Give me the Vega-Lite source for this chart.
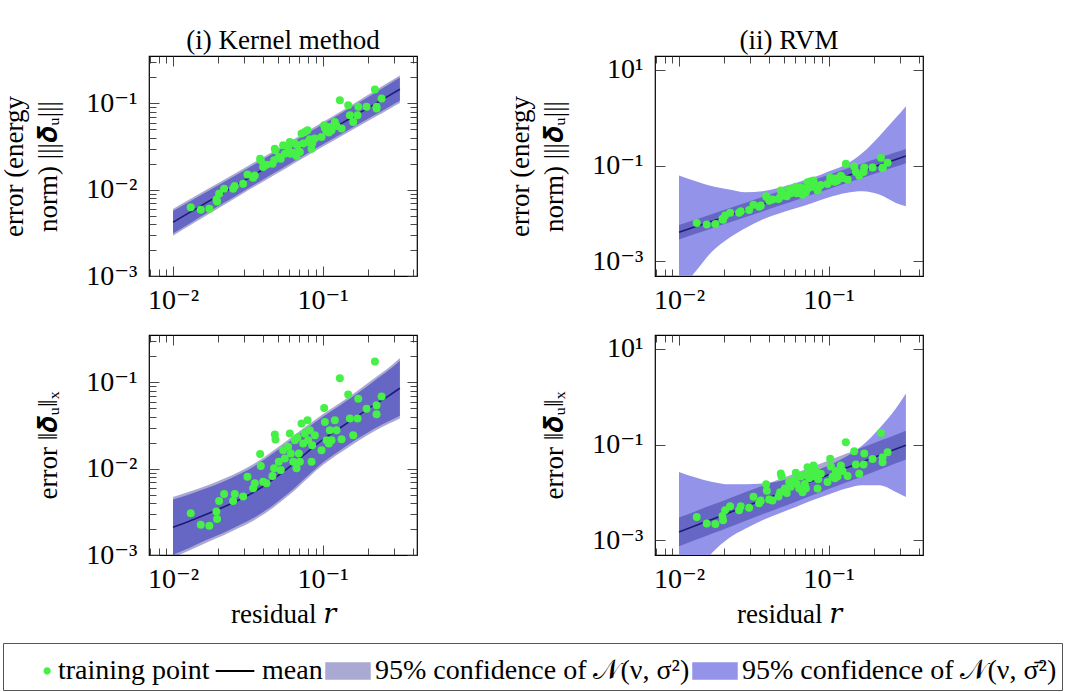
{
 "$schema": "https://vega.github.io/schema/vega-lite/v6.json",
 "background": "white",
 "padding": {"left": 0, "top": 25, "right": 2, "bottom": 0},
 "datasets": {
  "pts": [
   {"r":0.01314,"eE":0.00628,"eX":0.00305},{"r":0.01532,"eE":0.00585,"eX":0.002244},{"r":0.01751,"eE":0.00601,"eX":0.002183},
   {"r":0.01971,"eE":0.00731,"eX":0.002606},{"r":0.01951,"eE":0.00771,"eX":0.003193},{"r":0.02033,"eE":0.00898,"eX":0.00424},
   {"r":0.02196,"eE":0.01026,"eX":0.005108},{"r":0.02522,"eE":0.01026,"eX":0.00424},{"r":0.02588,"eE":0.01102,"eX":0.005108},
   {"r":0.02942,"eE":0.01173,"eX":0.004758},{"r":0.03146,"eE":0.01506,"eX":0.008091},{"r":0.03433,"eE":0.01377,"eX":0.005939},
   {"r":0.03522,"eE":0.01466,"eX":0.006781},{"r":0.03864,"eE":0.02191,"eX":0.01074},{"r":0.03824,"eE":0.02291,"eX":0.01477},
   {"r":0.04005,"eE":0.01833,"eX":0.007086},{"r":0.04216,"eE":0.01951,"eX":0.006781},{"r":0.04624,"eE":0.02004,"eX":0.008236},
   {"r":0.04744,"eE":0.02191,"eX":0.0101},{"r":0.04793,"eE":0.02994,"eX":0.0249},{"r":0.04843,"eE":0.02864,"eX":0.02182},
   {"r":0.05097,"eE":0.02394,"eX":0.01206},{"r":0.05257,"eE":0.02291,"eX":0.00966},{"r":0.0545,"eE":0.03274,"eX":0.01643},
   {"r":0.05592,"eE":0.02619,"eX":0.01317},{"r":0.05888,"eE":0.03131,"eX":0.01795},{"r":0.06042,"eE":0.0358,"eX":0.02559},
   {"r":0.06136,"eE":0.02619,"eX":0.01504},{"r":0.0636,"eE":0.0269,"eX":0.01206},{"r":0.06526,"eE":0.03424,"eX":0.02143},
   {"r":0.06696,"eE":0.0246,"eX":0.0101},{"r":0.068,"eE":0.03274,"eX":0.023},{"r":0.06941,"eE":0.02788,"eX":0.01504},
   {"r":0.07049,"eE":0.02739,"eX":0.01206},{"r":0.07231,"eE":0.04474,"eX":0.03337},{"r":0.07418,"eE":0.03424,"eX":0.01961},
   {"r":0.07612,"eE":0.04677,"eX":0.02559},{"r":0.07933,"eE":0.04891,"eX":0.03645},{"r":0.08014,"eE":0.0358,"eX":0.02143},
   {"r":0.08222,"eE":0.03845,"eX":0.02795},{"r":0.08437,"eE":0.02994,"eX":0.01206},{"r":0.08523,"eE":0.03424,"eX":0.01876},
   {"r":0.08881,"eE":0.03914,"eX":0.02447},{"r":0.09842,"eE":0.04093,"eX":0.01643},{"r":0.1025,"eE":0.05592,"eX":0.05057},
   {"r":0.1036,"eE":0.05208,"eX":0.03486},{"r":0.1063,"eE":0.04762,"eX":0.02143},{"r":0.1102,"eE":0.04595,"eX":0.01961},
   {"r":0.1119,"eE":0.05349,"eX":0.02795},{"r":0.1148,"eE":0.04891,"eX":0.02143},{"r":0.1208,"eE":0.06116,"eX":0.03645},
   {"r":0.124,"eE":0.05493,"eX":0.02795},{"r":0.1305,"eE":0.1092,"eX":0.1122},{"r":0.134,"eE":0.05117,"eX":0.02201},
   {"r":0.1484,"eE":0.09554,"eX":0.07271},{"r":0.1523,"eE":0.07311,"eX":0.03811},{"r":0.1603,"eE":0.06116,"eX":0.02447},
   {"r":0.1732,"eE":0.09137,"eX":0.06478},{"r":0.1714,"eE":0.07311,"eX":0.03811},{"r":0.1969,"eE":0.09137,"eX":0.04969},
   {"r":0.2239,"eE":0.1454,"eX":0.1747},{"r":0.2297,"eE":0.09137,"eX":0.05427},{"r":0.2297,"eE":0.08738,"eX":0.04274},
   {"r":0.2481,"eE":0.1142,"eX":0.06894}
  ],
  "bands": [
   {"panel":"KE","r":0.01,"m":0.004198,"aLo":0.002937,"aHi":0.005998,"bLo":0.003112,"bHi":0.005662},
   {"panel":"KE","r":0.01294,"m":0.005458,"aLo":0.003846,"aHi":0.007745,"bLo":0.004074,"bHi":0.007311},
   {"panel":"KE","r":0.01671,"m":0.007079,"aLo":0.005023,"aHi":0.009977,"bLo":0.005321,"bHi":0.009419},
   {"panel":"KE","r":0.02163,"m":0.009204,"aLo":0.006577,"aHi":0.01288,"bLo":0.006966,"bHi":0.01216},
   {"panel":"KE","r":0.02793,"m":0.01191,"aLo":0.008551,"aHi":0.0166,"bLo":0.009057,"bHi":0.01567},
   {"panel":"KE","r":0.03614,"m":0.01549,"aLo":0.01117,"aHi":0.02148,"bLo":0.01183,"bHi":0.02028},
   {"panel":"KE","r":0.04667,"m":0.02009,"aLo":0.01452,"aHi":0.0278,"bLo":0.01538,"bHi":0.02624},
   {"panel":"KE","r":0.06039,"m":0.02612,"aLo":0.01888,"aHi":0.03614,"bLo":0.02,"bHi":0.03412},
   {"panel":"KE","r":0.07798,"m":0.03388,"aLo":0.02443,"aHi":0.04699,"bLo":0.02588,"bHi":0.04436},
   {"panel":"KE","r":0.1009,"m":0.04406,"aLo":0.0317,"aHi":0.06124,"bLo":0.03357,"bHi":0.05781},
   {"panel":"KE","r":0.1306,"m":0.05715,"aLo":0.04093,"aHi":0.0798,"bLo":0.04335,"bHi":0.07534},
   {"panel":"KE","r":0.1687,"m":0.07413,"aLo":0.05272,"aHi":0.1042,"bLo":0.05585,"bHi":0.0984},
   {"panel":"KE","r":0.2183,"m":0.09638,"aLo":0.06792,"aHi":0.1368,"bLo":0.07194,"bHi":0.1291},
   {"panel":"KE","r":0.2818,"m":0.125,"aLo":0.0871,"aHi":0.1795,"bLo":0.09226,"bHi":0.1694},
   {"panel":"KE","r":0.3289,"m":0.1462,"aLo":0.1012,"aHi":0.2113,"bLo":0.1072,"bHi":0.1995},
   {"panel":"KX","r":0.01,"m":0.002099,"aLo":0.0009376,"aHi":0.004699,"bLo":0.0010046,"bHi":0.004385},
   {"panel":"KX","r":0.01294,"m":0.002483,"aLo":0.001135,"aHi":0.005433,"bLo":0.001216,"bHi":0.00507},
   {"panel":"KX","r":0.01671,"m":0.002972,"aLo":0.00139,"aHi":0.006353,"bLo":0.001489,"bHi":0.005929},
   {"panel":"KX","r":0.02163,"m":0.003573,"aLo":0.001683,"aHi":0.007586,"bLo":0.001803,"bHi":0.007079},
   {"panel":"KX","r":0.02793,"m":0.004395,"aLo":0.00208,"aHi":0.00929,"bLo":0.002228,"bHi":0.00867},
   {"panel":"KX","r":0.03614,"m":0.005585,"aLo":0.002624,"aHi":0.01189,"bLo":0.002812,"bHi":0.01109},
   {"panel":"KX","r":0.04667,"m":0.007551,"aLo":0.003532,"aHi":0.01614,"bLo":0.003784,"bHi":0.01507},
   {"panel":"KX","r":0.06039,"m":0.01059,"aLo":0.005012,"aHi":0.02239,"bLo":0.00537,"bHi":0.02089},
   {"panel":"KX","r":0.07798,"m":0.01531,"aLo":0.007499,"aHi":0.03126,"bLo":0.008035,"bHi":0.02917},
   {"panel":"KX","r":0.1009,"m":0.02188,"aLo":0.01109,"aHi":0.04315,"bLo":0.01189,"bHi":0.04027},
   {"panel":"KX","r":0.1306,"m":0.02965,"aLo":0.01521,"aHi":0.05781,"bLo":0.01629,"bHi":0.05395},
   {"panel":"KX","r":0.1687,"m":0.04009,"aLo":0.02046,"aHi":0.07852,"bLo":0.02193,"bHi":0.07328},
   {"panel":"KX","r":0.2183,"m":0.0542,"aLo":0.02685,"aHi":0.1094,"bLo":0.02877,"bHi":0.1021},
   {"panel":"KX","r":0.2818,"m":0.07145,"aLo":0.03357,"aHi":0.1521,"bLo":0.03597,"bHi":0.1419},
   {"panel":"KX","r":0.3289,"m":0.0857,"aLo":0.03828,"aHi":0.1919,"bLo":0.04102,"bHi":0.1791},
   {"panel":"RE","r":0.01,"m":0.004027,"aLo":0.002851,"aHi":0.005688,"bLo":0.0002399,"bHi":0.0618},
   {"panel":"RE","r":0.01294,"m":0.005284,"aLo":0.003741,"aHi":0.007464,"bLo":0.0006152,"bHi":0.04699},
   {"panel":"RE","r":0.01671,"m":0.006902,"aLo":0.004886,"aHi":0.009749,"bLo":0.001614,"bHi":0.03698},
   {"panel":"RE","r":0.02163,"m":0.009057,"aLo":0.006412,"aHi":0.01279,"bLo":0.003069,"bHi":0.03148},
   {"panel":"RE","r":0.02793,"m":0.01183,"aLo":0.008375,"aHi":0.01671,"bLo":0.004966,"bHi":0.02767},
   {"panel":"RE","r":0.03614,"m":0.01552,"aLo":0.01099,"aHi":0.02192,"bLo":0.007413,"bHi":0.02904},
   {"panel":"RE","r":0.04667,"m":0.02028,"aLo":0.01436,"aHi":0.02865,"bLo":0.009908,"bHi":0.03412},
   {"panel":"RE","r":0.06039,"m":0.02661,"aLo":0.01884,"aHi":0.03759,"bLo":0.01279,"bHi":0.04335},
   {"panel":"RE","r":0.07798,"m":0.03483,"aLo":0.02466,"aHi":0.0492,"bLo":0.01656,"bHi":0.05521},
   {"panel":"RE","r":0.1009,"m":0.0456,"aLo":0.03228,"aHi":0.06441,"bLo":0.02178,"bHi":0.07603},
   {"panel":"RE","r":0.1306,"m":0.05984,"aLo":0.04237,"aHi":0.08452,"bLo":0.02679,"bHi":0.105},
   {"panel":"RE","r":0.1687,"m":0.07816,"aLo":0.05533,"aHi":0.1104,"bLo":0.02904,"bHi":0.1841},
   {"panel":"RE","r":0.2183,"m":0.1026,"aLo":0.07264,"aHi":0.1449,"bLo":0.02472,"bHi":0.4111},
   {"panel":"RE","r":0.2818,"m":0.1343,"aLo":0.09508,"aHi":0.1897,"bLo":0.01656,"bHi":0.9931},
   {"panel":"RE","r":0.3289,"m":0.1578,"aLo":0.1117,"aHi":0.2229,"bLo":0.01409,"bHi":1.742},
   {"panel":"RX","r":0.01,"m":0.001489,"aLo":0.000746,"aHi":0.00297,"bLo":0.00008318,"bHi":0.02679},
   {"panel":"RX","r":0.01294,"m":0.002028,"aLo":0.001016,"aHi":0.004046,"bLo":0.0001995,"bHi":0.02042},
   {"panel":"RX","r":0.01671,"m":0.002748,"aLo":0.001377,"aHi":0.005482,"bLo":0.0005508,"bHi":0.01656},
   {"panel":"RX","r":0.02163,"m":0.003741,"aLo":0.001875,"aHi":0.007463,"bLo":0.001114,"bHi":0.01479},
   {"panel":"RX","r":0.02793,"m":0.005082,"aLo":0.002547,"aHi":0.01014,"bLo":0.00175,"bHi":0.01479},
   {"panel":"RX","r":0.03614,"m":0.006918,"aLo":0.003467,"aHi":0.0138,"bLo":0.002612,"bHi":0.01528},
   {"panel":"RX","r":0.04667,"m":0.009376,"aLo":0.004699,"aHi":0.01871,"bLo":0.003597,"bHi":0.0171},
   {"panel":"RX","r":0.06039,"m":0.01276,"aLo":0.006395,"aHi":0.02546,"bLo":0.004966,"bHi":0.02109},
   {"panel":"RX","r":0.07798,"m":0.01734,"aLo":0.008691,"aHi":0.03459,"bLo":0.006839,"bHi":0.02679},
   {"panel":"RX","r":0.1009,"m":0.0236,"aLo":0.01183,"aHi":0.04708,"bLo":0.009141,"bHi":0.03698},
   {"panel":"RX","r":0.1306,"m":0.03214,"aLo":0.01611,"aHi":0.06412,"bLo":0.012,"bHi":0.05521},
   {"panel":"RX","r":0.1687,"m":0.04355,"aLo":0.02183,"aHi":0.08688,"bLo":0.01409,"bHi":0.09683},
   {"panel":"RX","r":0.2183,"m":0.05929,"aLo":0.02972,"aHi":0.1183,"bLo":0.01409,"bHi":0.2163},
   {"panel":"RX","r":0.2818,"m":0.08054,"aLo":0.04037,"aHi":0.1607,"bLo":0.01023,"bHi":0.5662},
   {"panel":"RX","r":0.3289,"m":0.09683,"aLo":0.04853,"aHi":0.1932,"bLo":0.008035,"bHi":1.167}
  ],
  "legendItems": [
   {"item": "training point"}, {"item": "mean"},
   {"item": "95% confidence of 𝒩(ν, σ²)"}, {"item": "95% confidence of 𝒩(ν, σ̄²)"}
  ]
 },
 "concat": [
  {
   "width": 268, "height": 220,
   "title": "(i) Kernel method",
   "layer": [
    {"data": {"name": "bands"}, "transform": [{"filter": "datum.panel == 'KE'"}],
     "mark": {"type": "area", "clip": true, "color": "#9393e9", "opacity": 1, "interpolate": "monotone"},
     "encoding": {
      "x": {"field": "r", "type": "quantitative", "scale": {"type": "log", "domain": [0.00691, 0.428], "nice": false},
            "axis": {"orient": "bottom", "title": null, "values": [0.007,0.008,0.009,0.01,0.02,0.03,0.04,0.05,0.06,0.07,0.08,0.09,0.1,0.2,0.3,0.4],
                     "labelExpr": "datum.value == 0.01 ? '10⁻²' : datum.value == 0.1 ? '10⁻¹' : ''",
                     "tickSize": {"condition": {"test": "datum.value == 0.01 || datum.value == 0.1", "value": -10}, "value": -7},
                     "labelFontSize": {"condition": {"test": "datum.value == 0.01 || datum.value == 0.1", "value": 28}, "value": 0},
                     "labelPadding": 20}},
      "y": {"field": "bLo", "type": "quantitative", "scale": {"type": "log", "domain": [0.001, 0.355], "nice": false},
            "axis": {"orient": "left", "title": ["error (energy", "norm) |||𝜹ᵤ|||"],
                     "values": [0.001,0.002,0.003,0.004,0.005,0.006,0.007,0.008,0.009,0.01,0.02,0.03,0.04,0.05,0.06,0.07,0.08,0.09,0.1,0.2,0.3],
                     "labelExpr": "datum.value == 0.001 ? '10⁻³' : datum.value == 0.01 ? '10⁻²' : datum.value == 0.1 ? '10⁻¹' : ''",
                     "tickSize": {"condition": {"test": "datum.value == 0.001 || datum.value == 0.01 || datum.value == 0.1", "value": -10}, "value": -7},
                     "labelFontSize": {"condition": {"test": "datum.value == 0.001 || datum.value == 0.01 || datum.value == 0.1", "value": 28}, "value": 0},
                     "labelPadding": 22}},
      "y2": {"field": "bHi"}}},
    {"data": {"name": "bands"}, "transform": [{"filter": "datum.panel == 'KE'"}],
     "mark": {"type": "area", "clip": true, "color": "#20208c", "opacity": 0.385, "interpolate": "monotone"},
     "encoding": {"x": {"field": "r", "type": "quantitative", "axis": null}, "y": {"field": "aLo", "type": "quantitative", "axis": null}, "y2": {"field": "aHi"}}},
    {"data": {"name": "bands"}, "transform": [{"filter": "datum.panel == 'KE'"}],
     "mark": {"type": "line", "clip": true, "color": "#1c1c78", "strokeWidth": 1.6, "interpolate": "monotone"},
     "encoding": {"x": {"field": "r", "type": "quantitative", "axis": null}, "y": {"field": "m", "type": "quantitative", "axis": null}}},
    {"data": {"name": "pts"},
     "mark": {"type": "circle", "clip": true, "color": "#46f046", "opacity": 1, "size": 64},
     "encoding": {"x": {"field": "r", "type": "quantitative", "axis": null}, "y": {"field": "eE", "type": "quantitative", "axis": null}}},
    {"data": {"name": "bands"}, "transform": [{"filter": "datum.panel == 'KE'"}],
     "mark": {"type": "line", "opacity": 0},
     "encoding": {
      "x": {"field": "r", "type": "quantitative", "axis": {"orient": "top", "title": null, "labels": false, "values": [0.007,0.008,0.009,0.01,0.02,0.03,0.04,0.05,0.06,0.07,0.08,0.09,0.1,0.2,0.3,0.4],
            "tickSize": {"condition": {"test": "datum.value == 0.01 || datum.value == 0.1", "value": -10}, "value": -7}}},
      "y": {"field": "m", "type": "quantitative", "axis": {"orient": "right", "title": null, "labels": false,
            "values": [0.001,0.002,0.003,0.004,0.005,0.006,0.007,0.008,0.009,0.01,0.02,0.03,0.04,0.05,0.06,0.07,0.08,0.09,0.1,0.2,0.3],
            "tickSize": {"condition": {"test": "datum.value == 0.001 || datum.value == 0.01 || datum.value == 0.1", "value": -10}, "value": -7}}}}}
   ],
   "resolve": {"axis": {"x": "independent", "y": "independent"}}
  },
  {
   "width": 268, "height": 220,
   "title": "(ii) RVM",
   "layer": [
    {"data": {"name": "bands"}, "transform": [{"filter": "datum.panel == 'RE'"}],
     "mark": {"type": "area", "clip": true, "color": "#9393e9", "opacity": 1, "interpolate": "monotone"},
     "encoding": {
      "x": {"field": "r", "type": "quantitative", "scale": {"type": "log", "domain": [0.00691, 0.428], "nice": false},
            "axis": {"orient": "bottom", "title": null, "values": [0.007,0.008,0.009,0.01,0.02,0.03,0.04,0.05,0.06,0.07,0.08,0.09,0.1,0.2,0.3,0.4],
                     "labelExpr": "datum.value == 0.01 ? '10⁻²' : datum.value == 0.1 ? '10⁻¹' : ''",
                     "tickSize": {"condition": {"test": "datum.value == 0.01 || datum.value == 0.1", "value": -10}, "value": -7},
                     "labelFontSize": {"condition": {"test": "datum.value == 0.01 || datum.value == 0.1", "value": 28}, "value": 0},
                     "labelPadding": 20}},
      "y": {"field": "bLo", "type": "quantitative", "scale": {"type": "log", "domain": [0.00049, 19.5], "nice": false},
            "axis": {"orient": "left", "title": ["error (energy", "norm) |||𝜹ᵤ|||"],
                     "values": [0.001, 0.1, 10],
                     "labelExpr": "datum.value == 0.001 ? '10⁻³' : datum.value == 0.1 ? '10⁻¹' : '10¹'",
                     "tickSize": -10, "labelPadding": 22}},
      "y2": {"field": "bHi"}}},
    {"data": {"name": "bands"}, "transform": [{"filter": "datum.panel == 'RE'"}],
     "mark": {"type": "area", "clip": true, "color": "#20208c", "opacity": 0.385, "interpolate": "monotone"},
     "encoding": {"x": {"field": "r", "type": "quantitative", "axis": null}, "y": {"field": "aLo", "type": "quantitative", "axis": null}, "y2": {"field": "aHi"}}},
    {"data": {"name": "bands"}, "transform": [{"filter": "datum.panel == 'RE'"}],
     "mark": {"type": "line", "clip": true, "color": "#1c1c78", "strokeWidth": 1.6, "interpolate": "monotone"},
     "encoding": {"x": {"field": "r", "type": "quantitative", "axis": null}, "y": {"field": "m", "type": "quantitative", "axis": null}}},
    {"data": {"name": "pts"},
     "mark": {"type": "circle", "clip": true, "color": "#46f046", "opacity": 1, "size": 64},
     "encoding": {"x": {"field": "r", "type": "quantitative", "axis": null}, "y": {"field": "eE", "type": "quantitative", "axis": null}}},
    {"data": {"name": "bands"}, "transform": [{"filter": "datum.panel == 'RE'"}],
     "mark": {"type": "line", "opacity": 0},
     "encoding": {
      "x": {"field": "r", "type": "quantitative", "axis": {"orient": "top", "title": null, "labels": false, "values": [0.007,0.008,0.009,0.01,0.02,0.03,0.04,0.05,0.06,0.07,0.08,0.09,0.1,0.2,0.3,0.4],
            "tickSize": {"condition": {"test": "datum.value == 0.01 || datum.value == 0.1", "value": -10}, "value": -7}}},
      "y": {"field": "m", "type": "quantitative", "axis": {"orient": "right", "title": null, "labels": false, "values": [0.001, 0.1, 10], "tickSize": -10}}}}
   ],
   "resolve": {"axis": {"x": "independent", "y": "independent"}}
  },
  {
   "width": 268, "height": 220,
   "layer": [
    {"data": {"name": "bands"}, "transform": [{"filter": "datum.panel == 'KX'"}],
     "mark": {"type": "area", "clip": true, "color": "#9393e9", "opacity": 1, "interpolate": "monotone"},
     "encoding": {
      "x": {"field": "r", "type": "quantitative", "scale": {"type": "log", "domain": [0.00691, 0.428], "nice": false},
            "axis": {"orient": "bottom", "title": "residual 𝑟", "titlePadding": 8, "values": [0.007,0.008,0.009,0.01,0.02,0.03,0.04,0.05,0.06,0.07,0.08,0.09,0.1,0.2,0.3,0.4],
                     "labelExpr": "datum.value == 0.01 ? '10⁻²' : datum.value == 0.1 ? '10⁻¹' : ''",
                     "tickSize": {"condition": {"test": "datum.value == 0.01 || datum.value == 0.1", "value": -10}, "value": -7},
                     "labelFontSize": {"condition": {"test": "datum.value == 0.01 || datum.value == 0.1", "value": 28}, "value": 0},
                     "labelPadding": 20}},
      "y": {"field": "bLo", "type": "quantitative", "scale": {"type": "log", "domain": [0.001, 0.355], "nice": false},
            "axis": {"orient": "left", "title": "error ‖𝜹ᵤ‖ₓ",
                     "values": [0.001,0.002,0.003,0.004,0.005,0.006,0.007,0.008,0.009,0.01,0.02,0.03,0.04,0.05,0.06,0.07,0.08,0.09,0.1,0.2,0.3],
                     "labelExpr": "datum.value == 0.001 ? '10⁻³' : datum.value == 0.01 ? '10⁻²' : datum.value == 0.1 ? '10⁻¹' : ''",
                     "tickSize": {"condition": {"test": "datum.value == 0.001 || datum.value == 0.01 || datum.value == 0.1", "value": -10}, "value": -7},
                     "labelFontSize": {"condition": {"test": "datum.value == 0.001 || datum.value == 0.01 || datum.value == 0.1", "value": 28}, "value": 0},
                     "labelPadding": 22}},
      "y2": {"field": "bHi"}}},
    {"data": {"name": "bands"}, "transform": [{"filter": "datum.panel == 'KX'"}],
     "mark": {"type": "area", "clip": true, "color": "#20208c", "opacity": 0.385, "interpolate": "monotone"},
     "encoding": {"x": {"field": "r", "type": "quantitative", "axis": null}, "y": {"field": "aLo", "type": "quantitative", "axis": null}, "y2": {"field": "aHi"}}},
    {"data": {"name": "bands"}, "transform": [{"filter": "datum.panel == 'KX'"}],
     "mark": {"type": "line", "clip": true, "color": "#1c1c78", "strokeWidth": 1.6, "interpolate": "monotone"},
     "encoding": {"x": {"field": "r", "type": "quantitative", "axis": null}, "y": {"field": "m", "type": "quantitative", "axis": null}}},
    {"data": {"name": "pts"},
     "mark": {"type": "circle", "clip": true, "color": "#46f046", "opacity": 1, "size": 64},
     "encoding": {"x": {"field": "r", "type": "quantitative", "axis": null}, "y": {"field": "eX", "type": "quantitative", "axis": null}}},
    {"data": {"name": "bands"}, "transform": [{"filter": "datum.panel == 'KX'"}],
     "mark": {"type": "line", "opacity": 0},
     "encoding": {
      "x": {"field": "r", "type": "quantitative", "axis": {"orient": "top", "title": null, "labels": false, "values": [0.007,0.008,0.009,0.01,0.02,0.03,0.04,0.05,0.06,0.07,0.08,0.09,0.1,0.2,0.3,0.4],
            "tickSize": {"condition": {"test": "datum.value == 0.01 || datum.value == 0.1", "value": -10}, "value": -7}}},
      "y": {"field": "m", "type": "quantitative", "axis": {"orient": "right", "title": null, "labels": false,
            "values": [0.001,0.002,0.003,0.004,0.005,0.006,0.007,0.008,0.009,0.01,0.02,0.03,0.04,0.05,0.06,0.07,0.08,0.09,0.1,0.2,0.3],
            "tickSize": {"condition": {"test": "datum.value == 0.001 || datum.value == 0.01 || datum.value == 0.1", "value": -10}, "value": -7}}}}}
   ],
   "resolve": {"axis": {"x": "independent", "y": "independent"}}
  },
  {
   "width": 268, "height": 220,
   "layer": [
    {"data": {"name": "bands"}, "transform": [{"filter": "datum.panel == 'RX'"}],
     "mark": {"type": "area", "clip": true, "color": "#9393e9", "opacity": 1, "interpolate": "monotone"},
     "encoding": {
      "x": {"field": "r", "type": "quantitative", "scale": {"type": "log", "domain": [0.00691, 0.428], "nice": false},
            "axis": {"orient": "bottom", "title": "residual 𝑟", "titlePadding": 8, "values": [0.007,0.008,0.009,0.01,0.02,0.03,0.04,0.05,0.06,0.07,0.08,0.09,0.1,0.2,0.3,0.4],
                     "labelExpr": "datum.value == 0.01 ? '10⁻²' : datum.value == 0.1 ? '10⁻¹' : ''",
                     "tickSize": {"condition": {"test": "datum.value == 0.01 || datum.value == 0.1", "value": -10}, "value": -7},
                     "labelFontSize": {"condition": {"test": "datum.value == 0.01 || datum.value == 0.1", "value": 28}, "value": 0},
                     "labelPadding": 20}},
      "y": {"field": "bLo", "type": "quantitative", "scale": {"type": "log", "domain": [0.00049, 19.5], "nice": false},
            "axis": {"orient": "left", "title": "error ‖𝜹ᵤ‖ₓ",
                     "values": [0.001, 0.1, 10],
                     "labelExpr": "datum.value == 0.001 ? '10⁻³' : datum.value == 0.1 ? '10⁻¹' : '10¹'",
                     "tickSize": -10, "labelPadding": 22}},
      "y2": {"field": "bHi"}}},
    {"data": {"name": "bands"}, "transform": [{"filter": "datum.panel == 'RX'"}],
     "mark": {"type": "area", "clip": true, "color": "#20208c", "opacity": 0.385, "interpolate": "monotone"},
     "encoding": {"x": {"field": "r", "type": "quantitative", "axis": null}, "y": {"field": "aLo", "type": "quantitative", "axis": null}, "y2": {"field": "aHi"}}},
    {"data": {"name": "bands"}, "transform": [{"filter": "datum.panel == 'RX'"}],
     "mark": {"type": "line", "clip": true, "color": "#1c1c78", "strokeWidth": 1.6, "interpolate": "monotone"},
     "encoding": {"x": {"field": "r", "type": "quantitative", "axis": null}, "y": {"field": "m", "type": "quantitative", "axis": null}}},
    {"data": {"name": "pts"},
     "mark": {"type": "circle", "clip": true, "color": "#46f046", "opacity": 1, "size": 64},
     "encoding": {"x": {"field": "r", "type": "quantitative", "axis": null}, "y": {"field": "eX", "type": "quantitative", "axis": null}}},
    {"data": {"name": "bands"}, "transform": [{"filter": "datum.panel == 'RX'"}],
     "mark": {"type": "line", "opacity": 0},
     "encoding": {
      "x": {"field": "r", "type": "quantitative", "axis": {"orient": "top", "title": null, "labels": false, "values": [0.007,0.008,0.009,0.01,0.02,0.03,0.04,0.05,0.06,0.07,0.08,0.09,0.1,0.2,0.3,0.4],
            "tickSize": {"condition": {"test": "datum.value == 0.01 || datum.value == 0.1", "value": -10}, "value": -7}}},
      "y": {"field": "m", "type": "quantitative", "axis": {"orient": "right", "title": null, "labels": false, "values": [0.001, 0.1, 10], "tickSize": -10}}}},
    {"data": {"name": "legendItems"},
     "mark": {"type": "point", "filled": true, "opacity": 1},
     "encoding": {
      "x": {"field": "r", "type": "quantitative", "axis": null},
      "y": {"field": "r", "type": "quantitative", "axis": null},
      "color": {"field": "item", "type": "nominal",
        "scale": {"domain": ["training point", "mean", "95% confidence of 𝒩(ν, σ²)", "95% confidence of 𝒩(ν, σ̄²)"],
                  "range": ["#46f046", "#000000", "#a9a9d3", "#9393e9"]},
        "legend": {"orient": "none", "legendX": -146, "legendY": 587, "direction": "horizontal", "columns": 4, "title": null,
                   "labelFont": "Liberation Serif, DejaVu Serif, serif", "labelFontSize": 28}},
      "shape": {"field": "item", "type": "nominal",
        "scale": {"domain": ["training point", "mean", "95% confidence of 𝒩(ν, σ²)", "95% confidence of 𝒩(ν, σ̄²)"],
                  "range": ["M0.55,0A0.16,0.16,0,1,1,0.87,0A0.16,0.16,0,1,1,0.55,0", "M-0.85,-0.045H0.85V0.045H-0.85Z", "M-1,-0.38H1V0.38H-1Z", "M-1,-0.38H1V0.38H-1Z"]},
        "legend": {"orient": "none", "legendX": -146, "legendY": 587, "direction": "horizontal", "columns": 4, "title": null,
                   "labelFont": "Liberation Serif, DejaVu Serif, serif", "labelFontSize": 28}}}}
   ],
   "resolve": {"axis": {"x": "independent", "y": "independent"}}
  }
 ],
 "columns": 2,
 "spacing": {"row": 18, "column": 87},
 "config": {
  "font": "Liberation Serif, DejaVu Serif, serif",
  "view": {"stroke": "#000000", "strokeWidth": 1.2},
  "axis": {"domain": false, "grid": false, "tickColor": "#333333", "tickWidth": 0.9, "labelFont": "Liberation Serif, DejaVu Serif, serif", "labelFontSize": 28,
           "labelColor": "#000000", "titleFont": "Liberation Serif, DejaVu Serif, serif", "titleFontSize": 27, "titleFontWeight": "normal", "titleColor": "#000000",
           "titlePadding": 23, "titleLineHeight": 34, "labelFlush": false, "labelOverlap": false, "labelBound": false},
  "title": {"font": "Liberation Serif, DejaVu Serif, serif", "fontSize": 27, "fontWeight": "normal", "color": "#000000", "offset": 1},
  "legend": {"labelFont": "Liberation Serif, DejaVu Serif, serif", "labelFontSize": 28, "labelColor": "#000000", "symbolSize": 2070, "symbolStrokeWidth": 0,
             "symbolOpacity": 1, "strokeColor": "#555555", "padding": 5, "columnPadding": 2, "labelOffset": 4, "labelLimit": 600}
 }
}
